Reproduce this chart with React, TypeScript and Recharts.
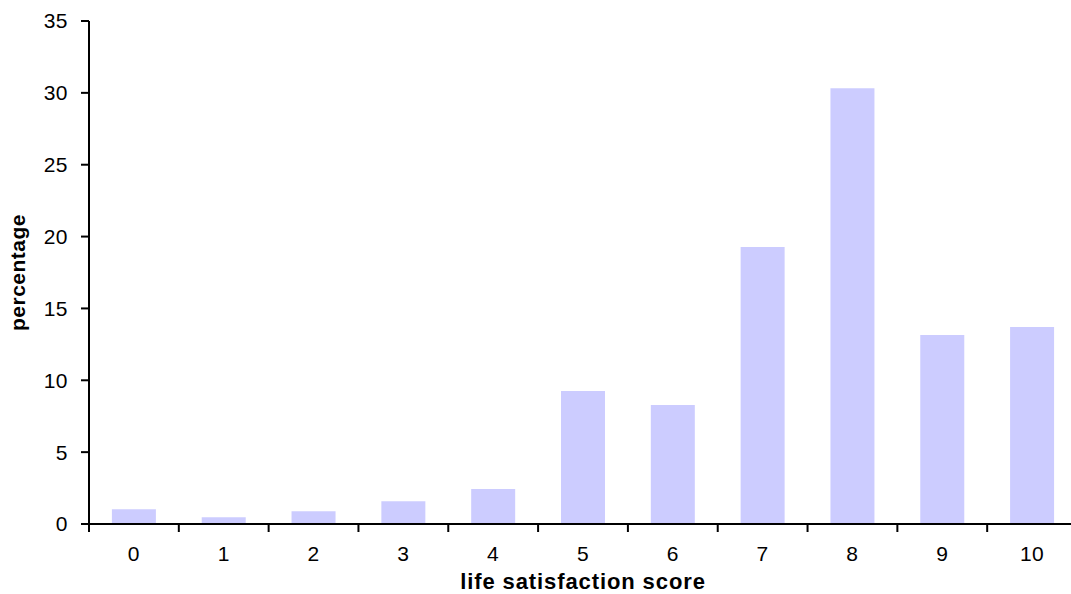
import { BarChart, Bar, XAxis, YAxis } from 'recharts';

const SCORES = ['0', '1', '2', '3', '4', '5', '6', '7', '8', '9', '10'];
const PERCENTAGES = [1.02, 0.47, 0.88, 1.58, 2.44, 9.26, 8.28, 19.28, 30.32, 13.15, 13.71];
const Y_TICKS = [0, 5, 10, 15, 20, 25, 30, 35];

const data = SCORES.map((score, i) => ({ score, pct: PERCENTAGES[i] }));

const CHART_W = 1080;
const CHART_H = 594;
const MARGIN = { top: 21, right: 3, left: 0, bottom: 0 };
const Y_AXIS_W = 89;
const BAND = (CHART_W - MARGIN.left - MARGIN.right - Y_AXIS_W) / SCORES.length;
const FONT = '"Liberation Sans", Arial, sans-serif';

function ScoreTick({ x, y, payload }: any) {
  const left = x - BAND / 2;
  return (
    <g>
      <line x1={left} x2={left} y1={y} y2={y + 8} stroke="#000" strokeWidth={2} />
      <text
        x={x}
        y={y + 22}
        dy="0.71em"
        textAnchor="middle"
        fontFamily={FONT}
        fontSize={21}
        letterSpacing={0.5}
        fill="#000"
      >
        {payload.value}
      </text>
    </g>
  );
}

export default function App() {
  return (
    <div style={{ position: 'absolute', left: 0, top: 0, width: 1071, height: 594, overflow: 'hidden', background: '#fff' }}>
      <BarChart width={CHART_W} height={CHART_H} data={data} margin={MARGIN} barCategoryGap="25.5%">
        <XAxis
          dataKey="score"
          height={70}
          tickSize={0}
          tickMargin={0}
          tickLine={false}
          axisLine={{ stroke: '#000', strokeWidth: 2 }}
          tick={<ScoreTick />}
          interval={0}
          label={{
            value: 'life satisfaction score',
            position: 'insideBottom',
            offset: 5,
            style: { fontFamily: FONT, fontSize: 22, fontWeight: 'bold', fill: '#000', letterSpacing: 0.9 },
          }}
        />
        <YAxis
          width={Y_AXIS_W}
          domain={[0, 35]}
          ticks={Y_TICKS}
          interval={0}
          tickSize={8}
          tickMargin={13}
          axisLine={{ stroke: '#000', strokeWidth: 2 }}
          tickLine={{ stroke: '#000', strokeWidth: 2 }}
          tick={{ fontFamily: FONT, fontSize: 21, fill: '#000', letterSpacing: 0.5 }}
          label={{
            value: 'percentage',
            angle: -90,
            position: 'insideLeft',
            offset: 18,
            style: { textAnchor: 'middle', fontFamily: FONT, fontSize: 21, fontWeight: 'bold', fill: '#000', letterSpacing: 0.5 },
          }}
        />
        <Bar dataKey="pct" fill="#ccccff" isAnimationActive={false} />
      </BarChart>
    </div>
  );
}
